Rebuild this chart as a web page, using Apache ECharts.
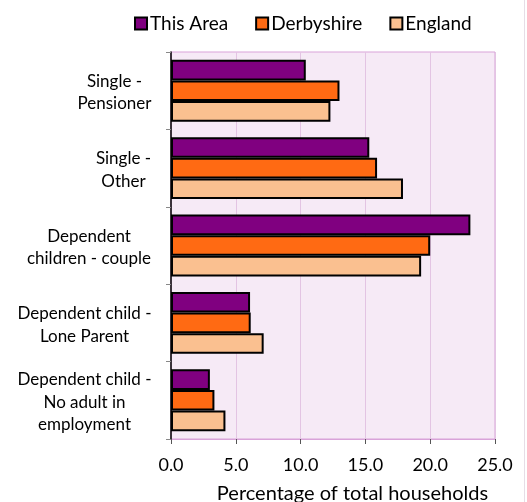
<!DOCTYPE html>
<html>
<head>
<meta charset="utf-8">
<script src="https://cdn.jsdelivr.net/npm/echarts@6/dist/echarts.min.js"></script>
<style>html,body{margin:0;padding:0;background:#fff;}#c{width:527px;height:502px;}</style>
</head>
<body>
<div id="c"></div>
<script>
var categories = ['Single -\nPensioner', 'Single -\nOther', 'Dependent\nchildren - couple', 'Dependent child -\nLone Parent', 'Dependent child -\nNo adult in\nemployment'];
var seriesNames = ['This Area', 'Derbyshire', 'England'];
var thisArea = [10.4, 15.3, 23.1, 6.1, 3.0];
var derbyshire = [13.0, 15.9, 20.0, 6.15, 3.35];
var england = [12.3, 17.9, 19.3, 7.15, 4.2];
var xTicks = [0, 5, 10, 15, 20, 25];
var colors = ['#800080', '#FF6A13', '#FAC090'];

var font = 'Lato, sans-serif';
var catFontSize = 17;

// measure widest line of each label so lines can be centred inside a right-aligned block
var cv = document.createElement('canvas').getContext('2d');
cv.font = catFontSize + 'px ' + font;
var rich = {};
categories.forEach(function(c, i){
  var w = 0;
  c.split('\n').forEach(function(l){ w = Math.max(w, cv.measureText(l).width); });
  rich['r' + i] = {width: Math.ceil(w) + 1, align: 'center', fontFamily: font, fontSize: catFontSize, lineHeight: 22.5, color: '#000'};
});

var chart = echarts.init(document.getElementById('c'));
var dataSets = [thisArea, derbyshire, england];
chart.setOption({
  animation: false,
  legend: {
    top: 9, left: 129,
    itemWidth: 12, itemHeight: 12, itemGap: 27,
    icon: 'rect',
    textStyle: {fontFamily: font, fontSize: 19, color: '#000', padding: [0,0,0,-2]},
    data: seriesNames
  },
  grid: {left: 171, right: 32, top: 52, bottom: 63, outerBoundsMode: 'none', containLabel: false, show: true, backgroundColor: '#F6EAF6', borderColor: '#D9A3D9', borderWidth: 1},
  xAxis: {
    type: 'value', min: 0, max: 25, interval: 5,
    name: 'Percentage of total households', nameLocation: 'middle', nameGap: 45,
    nameTextStyle: {fontFamily: font, fontSize: 20, color: '#000', padding: [0, 0, 0, 39]},
    axisLine: {show: true, lineStyle: {color: '#D9A3D9'}},
    axisTick: {show: true, length: 5, lineStyle: {color: '#555'}},
    splitLine: {show: true, lineStyle: {color: '#E3C4E3'}},
    axisLabel: {fontFamily: font, fontSize: 18, color: '#000', margin: 17, formatter: function(v){return v.toFixed(1);}}
  },
  yAxis: {
    type: 'category', inverse: true, data: categories,
    axisLine: {show: true, lineStyle: {color: '#000', width: 1.5}},
    axisTick: {show: true, length: 5, lineStyle: {color: '#888'}},
    axisLabel: {
      margin: 19, rich: rich, padding: [4, 0, 0, 0],
      formatter: function(v){
        var i = categories.indexOf(v);
        return v.split('\n').map(function(l){ return '{r' + i + '|' + l + '}'; }).join('\n');
      }
    }
  },
  series: dataSets.map(function(d, i){
    return {
      name: seriesNames[i], type: 'bar', data: d,
      barGap: '0%', barCategoryGap: '20%',
      itemStyle: {color: colors[i], borderColor: '#000', borderWidth: 2}
    };
  }),
  graphic: [{type: 'line', shape: {x1: 524.5, y1: 0, x2: 524.5, y2: 502}, style: {stroke: '#E6DDE6', lineWidth: 1}}]
});
</script>
</body>
</html>
